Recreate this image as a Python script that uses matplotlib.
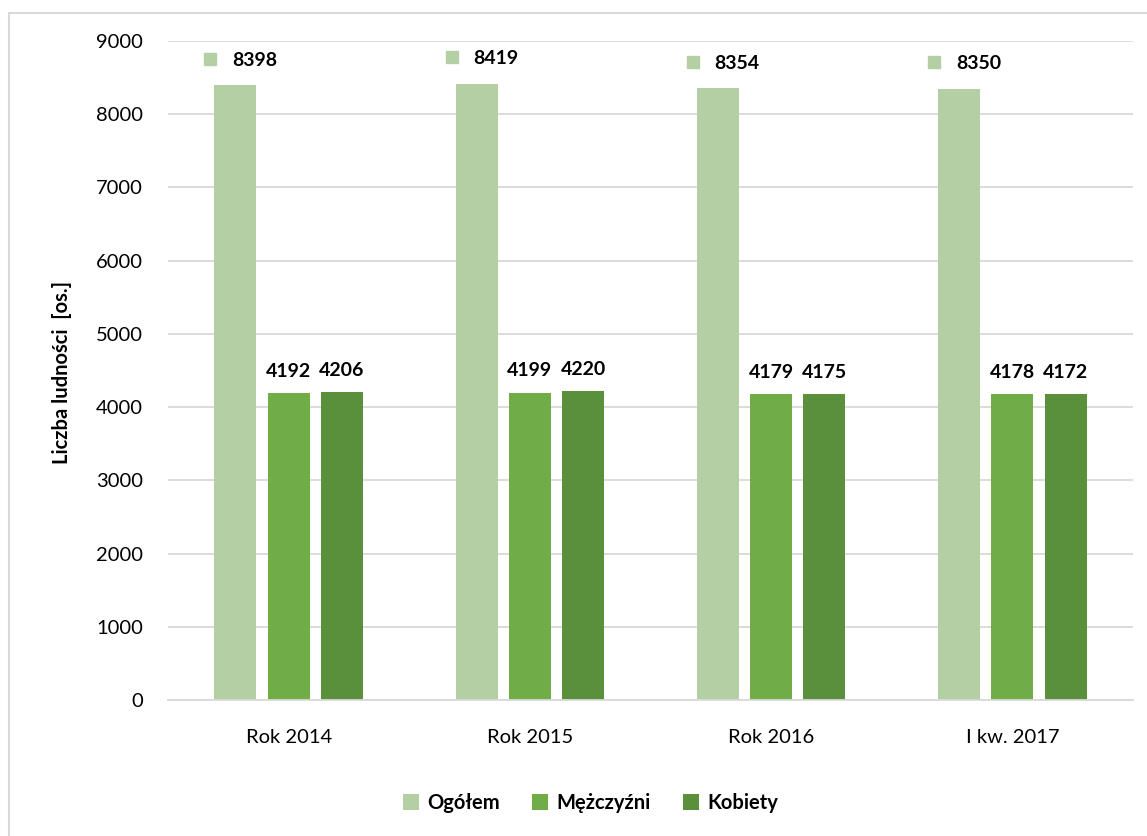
import matplotlib.pyplot as plt
import matplotlib.transforms as mtransforms
from matplotlib.patches import Rectangle
import numpy as np

plt.rcParams['font.family'] = ['Lato', 'DejaVu Sans']

categories = ['Rok 2014', 'Rok 2015', 'Rok 2016', 'I kw. 2017']
series = ['Ogółem', 'Mężczyźni', 'Kobiety']
ogolem = [8398, 8419, 8354, 8350]
mezczyzni = [4192, 4199, 4179, 4178]
kobiety = [4206, 4220, 4175, 4172]
colors = ['#b5cfa5', '#70ad47', '#5a8f3b']

fig = plt.figure(figsize=(11.47, 8.36), dpi=100)
ax = fig.add_axes([0.1465, 0.1627, 0.8413, 0.7883])

# chart border (Excel style), runs off the right/bottom edge
fig.patches.append(Rectangle((9 / 1147, -0.01), 1.2, 1 - 13 / 836 + 0.01,
                             transform=fig.transFigure, fill=False,
                             edgecolor='#d9d9d9', lw=1.5))

x = np.arange(len(categories))
w = 0.174
step = 0.221
values = [ogolem, mezczyzni, kobiety]
bars = []
for i, (name, vals, c) in enumerate(zip(series, values, colors)):
    b = ax.bar(x + (i - 1) * step, vals, width=w, color=c, label=name, zorder=2)
    bars.append(b)

# labels for Mężczyźni / Kobiety
for b in bars[1:]:
    for rect in b:
        ax.annotate(f'{int(rect.get_height())}',
                    (rect.get_x() + rect.get_width() / 2, rect.get_height()),
                    xytext=(0, 9.5), textcoords='offset points',
                    ha='center', va='bottom', fontsize=14, fontweight='bold')

# labels for Ogółem with a legend key in front
for rect in bars[0]:
    cx = rect.get_x() + rect.get_width() / 2
    h = rect.get_height()
    ax.annotate(f'{int(h)}', (cx, h), xytext=(14, 18), textcoords='offset points',
                ha='center', va='center', fontsize=14, fontweight='bold')
    tr = mtransforms.offset_copy(ax.transData, fig=fig, x=-18, y=19, units='points')
    ax.plot([cx], [h], marker='s', markersize=8.5, color=colors[0],
            transform=tr, clip_on=False, zorder=3)

ax.set_xlim(-0.5, 3.5)
ax.set_ylim(0, 9000)
ax.set_yticks(range(0, 9001, 1000))
ax.set_xticks(x)
ax.set_xticklabels(categories)
ax.tick_params(axis='both', length=0, labelsize=14.5)
ax.tick_params(axis='x', pad=21)
ax.tick_params(axis='y', pad=18)
ax.yaxis.grid(True, color='#d9d9d9', lw=1.3, zorder=0)
ax.set_axisbelow(True)
for s in ['top', 'right', 'left']:
    ax.spines[s].set_visible(False)
ax.spines['bottom'].set_color('#d9d9d9')
ax.spines['bottom'].set_linewidth(1.3)

fig.text(62 / 1147, 1 - 372 / 836, 'Liczba ludności  [os.]', rotation=90,
         ha='center', va='center', fontsize=14.5, fontweight='bold')

leg = fig.legend(loc='center', bbox_to_anchor=(0.515, 1 - 803 / 836), ncol=3,
                 frameon=False, prop={'size': 14.5, 'weight': 'bold'},
                 handlelength=0.8, handleheight=0.8, handletextpad=0.4,
                 columnspacing=1.6)

fig.savefig('out.png', dpi=100)
